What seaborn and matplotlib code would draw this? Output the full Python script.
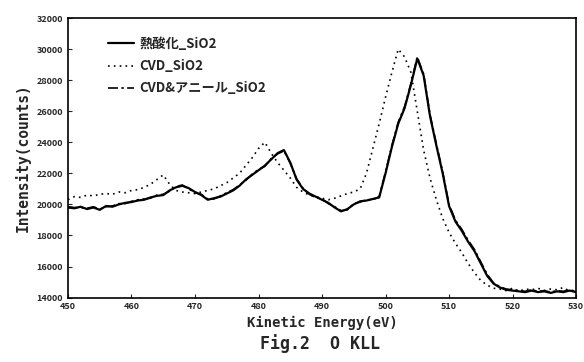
import numpy as np
import pandas as pd
import seaborn as sns
import matplotlib.pyplot as plt

# kinetic energy axis (eV), 1 eV step
energy = list(range(450, 531))

# 熱酸化_SiO2 (solid)
thermal = [19800, 19750, 19850, 19700, 19800, 19650, 19900, 19850, 20000, 20100,
           20150, 20250, 20300, 20450, 20550, 20600, 20900, 21100, 21200, 21050,
           20800, 20600, 20300, 20400, 20500, 20700, 20900, 21200, 21600, 21900,
           22200, 22500, 22900, 23300, 23500, 22700, 21600, 21000, 20700, 20500,
           20300, 20100, 19800, 19550, 19700, 20000, 20200, 20250, 20350, 20450,
           22000, 23700, 25200, 26200, 27700, 29400, 28300, 25700, 23800, 22000,
           19900, 18900, 18300, 17600, 17000, 16200, 15400, 14900, 14650, 14500,
           14450, 14400, 14350, 14450, 14350, 14400, 14300, 14400, 14350, 14450,
           14350]

# CVD_SiO2 (dotted)
cvd = [20300, 20500, 20450, 20600, 20550, 20650, 20700, 20650, 20800, 20750,
       20900, 20950, 21100, 21300, 21600, 21900, 21300, 20900, 20800, 20750,
       20700, 20800, 20900, 21000, 21200, 21400, 21700, 22000, 22500, 23000,
       23600, 24000, 23300, 22700, 22200, 21700, 21100, 20800, 20600, 20500,
       20400, 20300, 20400, 20550, 20700, 20800, 21000, 22000, 23600, 25200,
       26900, 28500, 30000, 29500, 28500, 26000, 23500, 21700, 20300, 19100,
       18200, 17500, 16900, 16200, 15600, 15100, 14800, 14600, 14550, 14450,
       14600, 14400, 14550, 14500, 14600, 14450, 14550, 14500, 14650, 14400,
       14500]

# CVD&アニール_SiO2 (dash-dot), lies almost on the thermal curve
anneal = [19850, 19800, 19800, 19750, 19850, 19700, 19850, 19900, 20050, 20050,
          20200, 20300, 20350, 20400, 20600, 20650, 20850, 21150, 21250, 21000,
          20750, 20650, 20350, 20350, 20550, 20750, 20950, 21250, 21550, 21950,
          22250, 22450, 22950, 23250, 23450, 22650, 21650, 21050, 20650, 20450,
          20350, 20050, 19850, 19600, 19650, 20050, 20150, 20300, 20300, 20500,
          22100, 23800, 25300, 26300, 27800, 29500, 28400, 25800, 23900, 22100,
          20000, 19000, 18400, 17700, 17100, 16300, 15500, 14950, 14700, 14550,
          14500, 14450, 14400, 14500, 14400, 14450, 14350, 14450, 14400, 14500,
          14400]

labels = ['熱酸化_SiO2', 'CVD_SiO2', 'CVD&アニール_SiO2']

df = pd.DataFrame({'energy': energy, labels[0]: thermal,
                   labels[1]: cvd, labels[2]: anneal})

sns.set_style('ticks')
plt.rcParams['font.family'] = ['Noto Sans CJK JP', 'DejaVu Sans']

fig = plt.figure(figsize=(5.84, 3.62), dpi=100)
ax = fig.add_axes([0.1164, 0.178, 0.870, 0.772])

sns.lineplot(data=df, x='energy', y=labels[2], ax=ax, color='black',
             linewidth=1.2, linestyle=(0, (6, 2, 1.5, 2)), label=labels[2])
sns.lineplot(data=df, x='energy', y=labels[1], ax=ax, color='black',
             linewidth=1.2, linestyle=(0, (1, 2.5)), label=labels[1])
sns.lineplot(data=df, x='energy', y=labels[0], ax=ax, color='black',
             linewidth=1.6, linestyle='-', label=labels[0])

ax.set_xlim(450, 530)
ax.set_ylim(14000, 32000)
ax.set_xticks(range(450, 531, 10))
ax.set_yticks(range(14000, 32001, 2000))
ax.tick_params(direction='in', length=3, width=0.8, labelsize=6.5)
for t in ax.get_xticklabels() + ax.get_yticklabels():
    t.set_fontweight('bold')
for s in ax.spines.values():
    s.set_linewidth(1.2)
    s.set_color('black')

ax.set_xlabel('Kinetic Energy(eV)', fontsize=10, fontweight='bold',
              family='DejaVu Sans Mono', labelpad=3)
ax.set_ylabel('Intensity(counts)', fontsize=10.5, fontweight='bold',
              family='DejaVu Sans Mono', labelpad=4)
fig.text(0.548, 0.035, 'Fig.2  O KLL', ha='center', fontsize=12,
         family='DejaVu Sans Mono', fontweight='bold')

# legend in the order of the picture
h, l = ax.get_legend_handles_labels()
order = [l.index(x) for x in labels]
leg = ax.legend([h[i] for i in order], labels, loc='upper left',
                bbox_to_anchor=(0.055, 0.975), frameon=False,
                prop={'family': ['Noto Sans CJK JP', 'DejaVu Sans'],
                      'weight': 'bold', 'size': 9.5},
                handlelength=2.0, handletextpad=0.4, labelspacing=0.62)

fig.savefig('out.png', dpi=100)
